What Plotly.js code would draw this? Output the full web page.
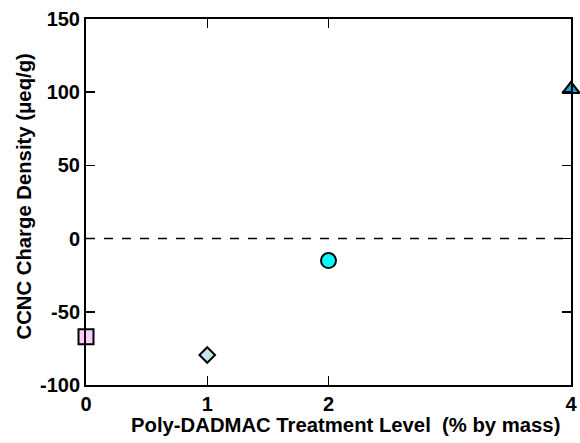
<!DOCTYPE html>
<html>
<head>
<meta charset="utf-8">
<script src="https://cdn.plot.ly/plotly-3.0.1.min.js"></script>
<style>html,body{margin:0;padding:0;background:#fff;}#chart{width:580px;height:443px;}</style>
</head>
<body>
<div id="chart"></div>
<script>
const treatmentLevels = [0, 1, 2, 4];
const chargeDensity = [-67, -79.5, -15, 102];
const markerSymbols = ['square', 'diamond', 'circle', 'triangle-up'];
const markerColors = ['#FFCCFF', '#C4E6EA', '#00FFFF', '#1AA0D8'];
const markerSizes = [15, 12, 15, 15];
const xTickVals = [0, 1, 2, 4];
const yTickVals = [-100, -50, 0, 50, 100, 150];
const xTitle = 'Poly-DADMAC Treatment Level\u00a0 (% by mass)';
const yTitle = 'CCNC Charge Density (\u03bceq/g)';

const traces = treatmentLevels.map((x, i) => ({
  x: [x], y: [chargeDensity[i]],
  type: 'scatter', mode: 'markers',
  cliponaxis: false,
  marker: {symbol: markerSymbols[i], color: markerColors[i], size: markerSizes[i],
           line: {color: '#000', width: 2}},
  showlegend: false, hoverinfo: 'skip'
}));

const fam = 'Arial, "Liberation Sans", sans-serif';
const tickFont = {family: fam, size: 20, color: '#000'};
const titleFont = {family: fam, size: 20.3, color: '#000'};
const layout = {
  width: 580, height: 443,
  margin: {l: 86, r: 9, t: 19, b: 58},
  paper_bgcolor: '#fff', plot_bgcolor: '#fff',
  font: {family: fam, color: '#000'},
  xaxis: {
    range: [0, 4], tickvals: xTickVals, ticktext: xTickVals.map(v => '<b>' + v + '</b>'),
    ticks: 'inside', ticklen: 9, tickwidth: 1.5, tickcolor: '#000',
    showline: true, linewidth: 2, linecolor: '#000', mirror: 'ticks',
    showgrid: false, zeroline: false, tickfont: tickFont
  },
  yaxis: {
    range: [-100, 150], tickvals: yTickVals, ticktext: yTickVals.map(v => '<b>' + v + '</b>'),
    ticks: 'inside', ticklen: 9, tickwidth: 1.5, tickcolor: '#000',
    showline: true, linewidth: 2, linecolor: '#000', mirror: 'ticks',
    showgrid: false, zeroline: false, tickfont: tickFont
  },
  annotations: [
    {text: '<b>' + xTitle + '</b>', xref: 'paper', yref: 'paper', x: 0.536, y: -0.109,
     xanchor: 'center', yanchor: 'middle', showarrow: false, font: titleFont},
    {text: '<b>' + yTitle + '</b>', xref: 'paper', yref: 'paper', x: -0.128, y: 0.515,
     xanchor: 'center', yanchor: 'middle', textangle: -90, showarrow: false, font: titleFont}
  ],
  shapes: [{type: 'line', xref: 'x', yref: 'y', x0: 0, x1: 4, y0: 0, y1: 0,
            line: {color: '#000', width: 1.5, dash: 'dash'}, layer: 'below'}]
};

Plotly.newPlot('chart', traces, layout, {displayModeBar: false, staticPlot: true});
</script>
</body>
</html>
